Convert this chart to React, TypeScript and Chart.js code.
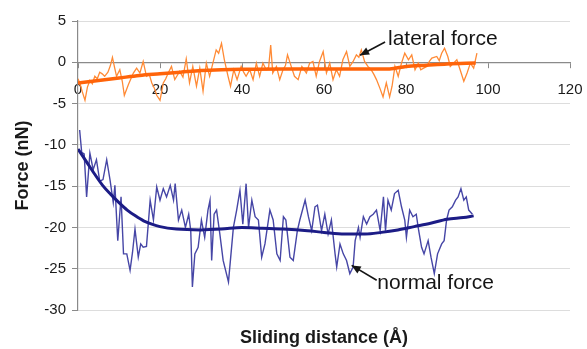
import React, { useEffect, useRef } from 'react';
import { Chart, registerables } from 'chart.js';

Chart.register(...registerables);

const FONT = '"Liberation Sans", Arial, sans-serif';

// Normal force (noisy)
const normalX = [0.4, 0.9, 1.5, 2.1, 2.9, 3.3, 3.7, 4.5, 5.3, 6.1, 7.0, 7.8, 8.6, 9.0, 9.7, 10.5, 11.1, 11.9, 12.7, 13.3, 13.9, 14.7, 15.3, 15.9, 16.7, 17.6, 18.4, 19.2, 20.0, 20.8, 21.6, 22.5, 23.3, 23.7, 24.5, 25.3, 26.2, 27.0, 27.5, 27.9, 28.5, 29.3, 30.1, 30.9, 31.7, 32.2, 32.6, 33.2, 33.8, 34.6, 35.4, 36.7, 37.9, 38.7, 39.5, 40.2, 41.0, 41.6, 42.4, 43.2, 44.0, 44.8, 45.6, 46.8, 47.6, 48.5, 49.3, 50.1, 50.7, 51.7, 52.5, 53.5, 54.1, 55.4, 56.2, 57.0, 57.8, 58.4, 59.4, 60.2, 61.0, 61.8, 62.7, 63.1, 63.9, 64.7, 65.5, 66.3, 67.1, 67.6, 68.4, 68.8, 69.6, 70.4, 71.2, 72.0, 72.8, 73.7, 74.5, 75.0, 75.6, 76.4, 77.2, 78.1, 78.9, 79.7, 80.1, 80.9, 81.7, 82.5, 83.1, 83.8, 84.4, 85.4, 86.1, 86.9, 87.7, 88.7, 89.3, 89.9, 90.5, 91.3, 92.1, 92.7, 93.4, 94.1, 94.7, 95.3, 96.2];
const normalY = [-8.2, -10.9, -11.1, -16.3, -11.0, -12.0, -13.0, -11.8, -14.4, -14.2, -11.8, -14.2, -17.0, -14.9, -21.6, -16.3, -23.2, -23.2, -25.2, -23.0, -20.2, -23.6, -22.0, -22.4, -22.3, -16.7, -19.1, -15.1, -16.7, -15.3, -16.3, -14.9, -16.7, -14.7, -19.1, -17.9, -20.0, -18.4, -20.4, -27.2, -23.2, -22.4, -19.1, -21.2, -17.9, -16.7, -24.0, -18.4, -17.9, -20.8, -24.0, -26.6, -20.0, -17.9, -15.5, -19.6, -14.7, -20.0, -16.7, -18.7, -19.1, -23.6, -22.0, -17.9, -19.1, -23.2, -24.0, -18.7, -19.1, -23.6, -24.0, -20.4, -19.1, -16.7, -18.7, -20.4, -17.5, -17.3, -20.4, -18.4, -20.8, -19.1, -23.2, -24.8, -22.0, -23.2, -24.0, -25.6, -24.8, -21.6, -20.0, -21.2, -18.7, -19.6, -18.7, -18.4, -17.9, -20.4, -16.3, -20.4, -16.7, -17.9, -15.9, -15.5, -17.5, -19.1, -21.2, -17.9, -18.7, -18.4, -20.4, -22.4, -23.2, -21.6, -23.6, -25.6, -23.2, -22.0, -21.6, -19.1, -17.9, -17.5, -16.7, -16.3, -15.3, -16.7, -16.3, -17.9, -18.4];

// Normal force (trend)
const normalTrendX = [0, 2, 4, 6, 8, 10, 12, 14, 16, 18, 20, 24, 30, 35, 40, 45, 50, 56, 60, 65, 70, 74, 78, 82, 86, 90, 94, 96.5];
const normalTrendY = [-10.5, -12.0, -13.5, -14.9, -16.0, -17.0, -17.9, -18.6, -19.2, -19.6, -19.9, -20.2, -20.3, -20.2, -20.0, -20.1, -20.2, -20.4, -20.6, -20.8, -20.8, -20.6, -20.3, -19.9, -19.5, -19.0, -18.8, -18.6];

// Lateral force (noisy)
const lateralX = [0.0, 0.5, 1.0, 1.7, 2.3, 2.9, 3.5, 4.1, 4.7, 5.3, 5.9, 6.5, 7.3, 7.9, 8.4, 8.9, 9.4, 10.2, 10.8, 11.3, 12.3, 12.9, 13.5, 14.3, 15.1, 15.9, 16.7, 17.4, 18.0, 18.6, 19.2, 20.0, 20.8, 21.4, 22.0, 22.8, 23.6, 24.2, 24.8, 25.6, 26.4, 27.2, 28.0, 28.9, 29.7, 30.5, 31.3, 32.1, 32.9, 33.7, 34.3, 35.0, 35.7, 36.6, 37.2, 38.0, 38.8, 39.8, 40.4, 41.0, 41.9, 42.7, 43.5, 44.3, 45.1, 45.9, 46.5, 47.0, 47.5, 48.4, 49.2, 50.0, 50.6, 51.1, 52.0, 52.8, 53.7, 54.6, 55.7, 56.5, 57.3, 58.1, 58.9, 59.8, 60.6, 61.4, 62.2, 63.0, 63.8, 64.6, 65.5, 66.3, 67.1, 67.9, 68.5, 69.1, 69.9, 70.7, 71.5, 72.2, 72.8, 73.6, 74.4, 75.2, 76.0, 76.6, 77.3, 78.1, 78.9, 79.7, 80.6, 81.4, 82.2, 83.0, 83.6, 84.3, 85.1, 85.7, 86.3, 87.5, 88.1, 88.7, 89.4, 90.2, 90.8, 91.6, 92.4, 93.2, 94.1, 94.9, 95.7, 96.5, 97.3];
const lateralY = [-2.0, -2.6, -3.5, -4.6, -3.0, -2.2, -2.6, -1.7, -2.0, -1.2, -1.4, -1.7, -1.2, -0.4, 0.6, -0.6, -1.7, -0.9, -2.3, -4.0, -2.7, -2.0, -1.3, -0.7, -1.3, 0.1, -1.7, -1.5, -2.5, -3.1, -4.0, -4.6, -2.5, -2.0, -1.3, -0.5, -2.1, -1.6, -1.1, -1.8, 0.4, -2.5, -0.5, -2.9, -0.7, -3.5, -0.1, -1.7, -0.1, 1.5, 1.1, 2.3, 0.3, -1.7, -2.9, -0.9, -2.1, -0.5, -1.2, -1.7, -0.9, -2.1, -0.1, -1.7, -0.1, -0.9, -0.6, 2.1, -1.3, -0.5, -2.1, -0.9, -0.4, 0.9, -0.5, -1.7, -2.1, -0.5, -1.3, -0.1, 0.1, -1.7, 0.1, 1.3, -1.3, -0.1, -2.1, -0.9, -1.7, 0.3, 1.3, -0.5, 0.1, 0.9, 0.6, 1.5, 0.1, -0.5, -0.9, -1.5, -2.1, -3.1, -4.2, -2.5, -4.2, -2.9, -0.5, -1.7, -0.1, 1.1, 0.3, 0.9, -0.9, -0.1, -0.9, -0.7, -0.5, 0.1, 0.5, 0.7, 0.2, 1.1, 1.7, 0.7, -0.5, -0.1, 0.3, -0.9, -2.3, -1.3, -0.1, -0.7, 1.1];

// Lateral force (trend)
const lateralTrendX = [0, 5, 10, 15, 20, 25, 30, 35, 40, 50, 60, 70, 76, 80, 85, 90, 97];
const lateralTrendY = [-2.5, -2.2, -1.9, -1.6, -1.4, -1.2, -1.0, -0.9, -0.85, -0.8, -0.8, -0.8, -0.8, -0.5, -0.35, -0.2, -0.1];

// Axis ranges / labels
const xRange = [0, 120, 20];
const yRange = [-30, 5, 5];
const xTitle = 'Sliding distance (Å)';
const yTitle = 'Force (nN)';

// Annotations (data coordinates)
const annotationTexts = ['lateral force', 'normal force'];
const annotationTips = [[68.8, 0.85], [66.75, -24.6]];
const annotationTails = [[74.9, 2.46], [72.85, -26.4]];
const annotationLabels = [[75.6, 2.74], [73.0, -26.8]];

const toPoints = (xs: number[], ys: number[]) => xs.map((x, i) => ({ x, y: ys[i] }));

const annotationPlugin = {
  id: 'arrowAnnotations',
  afterDatasetsDraw(chart: any) {
    const { ctx } = chart;
    const xs = chart.scales.x;
    const ys = chart.scales.y;
    ctx.save();
    ctx.strokeStyle = '#151515';
    ctx.fillStyle = '#151515';
    annotationTexts.forEach((text, i) => {
      const tx = xs.getPixelForValue(annotationTips[i][0]);
      const ty = ys.getPixelForValue(annotationTips[i][1]);
      const sx = xs.getPixelForValue(annotationTails[i][0]);
      const sy = ys.getPixelForValue(annotationTails[i][1]);
      ctx.lineWidth = 1.6;
      ctx.beginPath();
      ctx.moveTo(sx, sy);
      ctx.lineTo(tx, ty);
      ctx.stroke();
      const ang = Math.atan2(ty - sy, tx - sx);
      const L = 9;
      const W = 4;
      const c = Math.cos(ang);
      const s = Math.sin(ang);
      ctx.beginPath();
      ctx.moveTo(tx, ty);
      ctx.lineTo(tx - L * c + W * s, ty - L * s - W * c);
      ctx.lineTo(tx - L * c - W * s, ty - L * s + W * c);
      ctx.closePath();
      ctx.fill();
      ctx.font = `21px ${FONT}`;
      ctx.textBaseline = 'middle';
      ctx.textAlign = 'left';
      ctx.fillText(text, xs.getPixelForValue(annotationLabels[i][0]), ys.getPixelForValue(annotationLabels[i][1]));
    });
    ctx.restore();
  },
};

export default function App() {
  const ref = useRef<HTMLCanvasElement | null>(null);

  useEffect(() => {
    if (!ref.current) return;
    const axisColor = '#8a8a8a';
    const chart = new Chart(ref.current, {
      type: 'line',
      data: {
        datasets: [
          {
            label: 'normal trend',
            data: toPoints(normalTrendX, normalTrendY),
            borderColor: '#1c1c86',
            borderWidth: 3,
            pointRadius: 0,
            tension: 0.4,
            cubicInterpolationMode: 'monotone',
            order: 0,
          },
          {
            label: 'lateral trend',
            data: toPoints(lateralTrendX, lateralTrendY),
            borderColor: '#ff640a',
            borderWidth: 3.5,
            pointRadius: 0,
            tension: 0.4,
            cubicInterpolationMode: 'monotone',
            order: 0,
          },
          {
            label: 'normal force',
            data: toPoints(normalX, normalY),
            borderColor: '#4646a6',
            borderWidth: 1.4,
            pointRadius: 0,
            tension: 0,
            order: 1,
          },
          {
            label: 'lateral force',
            data: toPoints(lateralX, lateralY),
            borderColor: '#ff8a35',
            borderWidth: 1.3,
            pointRadius: 0,
            tension: 0,
            order: 1,
          },
        ],
      },
      options: {
        animation: false,
        responsive: true,
        maintainAspectRatio: false,
        layout: { padding: { left: 8, right: 17, top: 21, bottom: 0 } },
        plugins: {
          legend: { display: false },
          tooltip: { enabled: false },
        },
        scales: {
          x: {
            type: 'linear',
            position: { y: 0 } as any,
            min: xRange[0],
            max: xRange[1],
            ticks: {
              stepSize: xRange[2],
              font: { family: FONT, size: 15 },
              color: '#1a1a1a',
              padding: 14,
              maxRotation: 0,
            },
            grid: {
              drawOnChartArea: false,
              drawTicks: true,
              tickLength: 5,
              tickColor: axisColor,
            },
            border: { display: true, color: axisColor, width: 1.2 },
            afterFit: (scale: any) => {
              scale.paddingRight = 0;
              scale.paddingLeft = 0;
            },
          },
          xt: {
            type: 'linear',
            position: 'bottom',
            axis: 'x',
            min: 0,
            max: 1,
            ticks: { display: false },
            grid: { display: false },
            border: { display: false },
            title: {
              display: true,
              text: xTitle,
              font: { family: FONT, size: 18, weight: 'bold' },
              color: '#1a1a1a',
              padding: { top: 0, bottom: 0 },
            },
            afterFit: (scale: any) => {
              scale.height = 39;
            },
          },
          y: {
            type: 'linear',
            position: 'left',
            min: yRange[0],
            max: yRange[1],
            ticks: {
              stepSize: yRange[2],
              font: { family: FONT, size: 15 },
              color: '#1a1a1a',
              padding: 6,
            },
            grid: {
              color: '#dddddd',
              lineWidth: 1,
              drawTicks: true,
              tickLength: 6,
              tickColor: axisColor,
            },
            border: { display: true, color: axisColor, width: 1.2 },
            title: {
              display: true,
              text: yTitle,
              font: { family: FONT, size: 18, weight: 'bold' },
              color: '#1a1a1a',
              padding: { top: 4, bottom: 4 },
            },
            afterFit: (scale: any) => {
              scale.width = 70;
            },
          },
        },
      } as any,
      plugins: [annotationPlugin],
    });
    return () => chart.destroy();
  }, []);

  return (
    <div style={{ position: 'absolute', left: 0, top: 0, width: 587, height: 349, background: '#ffffff' }}>
      <canvas ref={ref} />
    </div>
  );
}
